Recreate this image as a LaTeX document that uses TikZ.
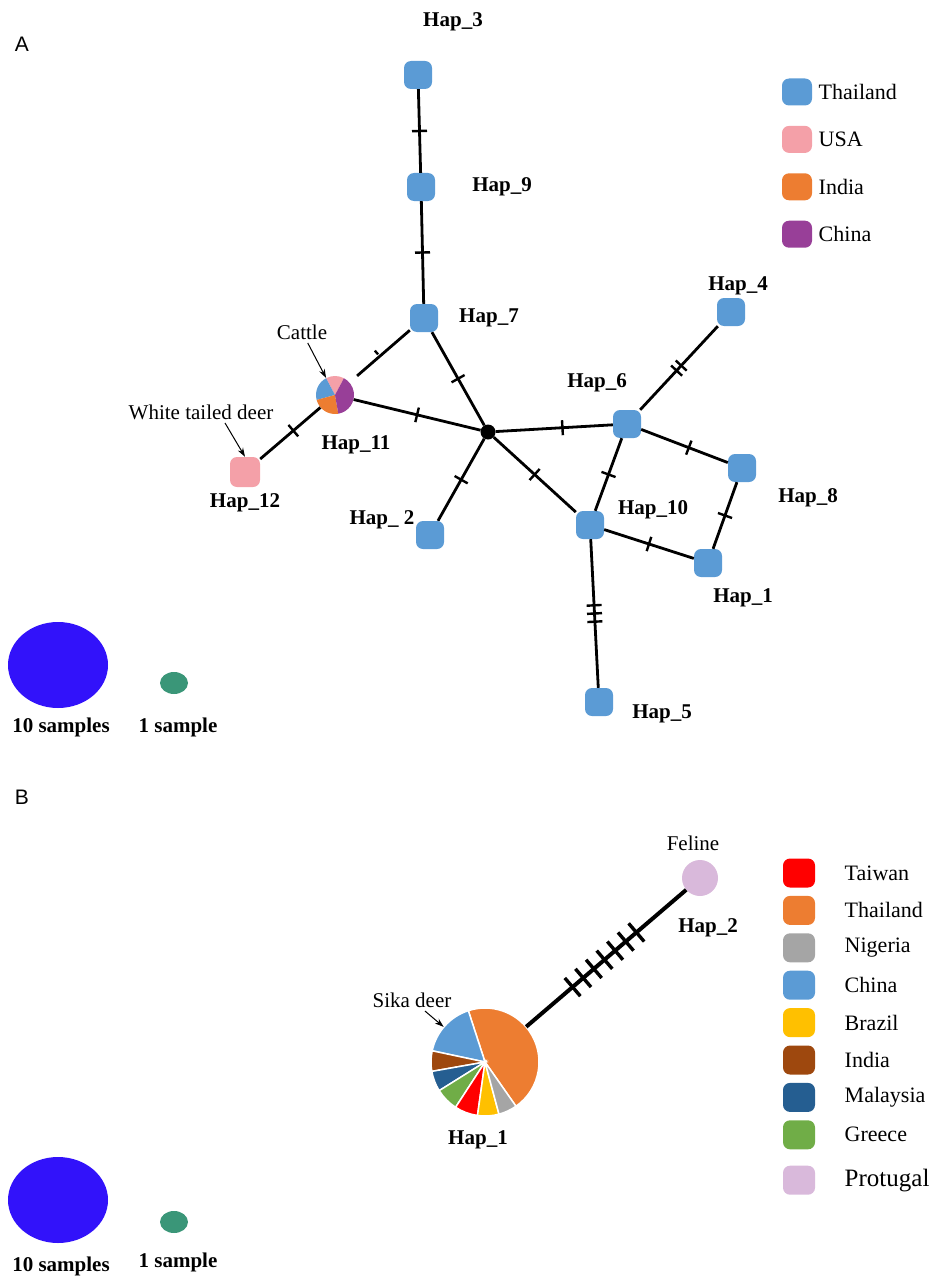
\documentclass[tikz,border=0pt]{standalone}
\usepackage{fontspec}
\setmainfont{Liberation Serif}
\newfontfamily\panelfont{Liberation Sans}
\usepackage{tikz}
\usepackage{xcolor}
\usetikzlibrary{positioning, shapes.geometric}
\usetikzlibrary {arrows.meta, decorations.markings}

\definecolor{thaiblue}{HTML}{5B9BD5}
\definecolor{usapink}{HTML}{F4A0A8}
\definecolor{indiaorange}{HTML}{ED7D31}
\definecolor{chinapurple}{HTML}{983F98}
\definecolor{samplesblue}{RGB}{50,18,250}
\definecolor{samplegreen}{RGB}{58,150,120}
\definecolor{twred}{HTML}{FF0000}
\definecolor{nggray}{HTML}{A5A5A5}
\definecolor{bryellow}{HTML}{FFC000}
\definecolor{inbrown}{HTML}{9E480E}
\definecolor{mydarkblue}{HTML}{255E91}
\definecolor{grgreen}{HTML}{70AD47}
\definecolor{ptlilac}{HTML}{D9B9DB}

\tikzset{
  hapnode/.style={fill=thaiblue, rounded corners=7pt, minimum size=28pt, inner sep=0pt},
  hapname/.style={font=\fontsize{21}{25}\selectfont\bfseries},
  note/.style={font=\fontsize{21}{25}\selectfont},
  country/.style={font=\fontsize{22}{26}\selectfont},
  panel/.style={font=\panelfont\fontsize{21}{25}\selectfont},
  swatch/.style={rounded corners=7pt, minimum width=30pt, minimum height=27pt, inner sep=0pt},
  bigsize/.style={ellipse, fill=samplesblue, minimum width=100pt, minimum height=86pt, inner sep=0pt},
  smallsize/.style={ellipse, fill=samplegreen, minimum width=28pt, minimum height=22pt, inner sep=0pt},
  hapline/.style={line width=2.8pt},
  mut/.style={postaction={decorate, decoration={markings, mark=at position #1 with {\draw[line width=2.4pt] (0,-7.5pt) -- (0,7.5pt);}}}},
  mutrow/.style={postaction={decorate, decoration={markings, mark=between positions 0.29 and 0.72 step 14pt with {\draw[line width=3.4pt] (0,-12pt) -- (0,12pt);}}}},
}

\begin{document}
\begin{tikzpicture}[x=1pt, y=1pt, >={Stealth[length=9pt, width=6pt]}]
        \useasboundingbox (0,0) rectangle (933,-1276);

        % panel A
        \node[panel] (panela) at (22,-44) {A};

        \node[hapnode]                                  (hap3)   at (418,-75)  {};
        \node[hapnode]                                  (hap9)   at (421,-187) {};
        \node[hapnode]                                  (hap7)   at (424,-318) {};
        \node[circle, minimum size=38pt, inner sep=0pt] (hap11)  at (335,-395) {};
        \node[hapnode, fill=usapink, minimum size=30pt] (hap12)  at (245,-472) {};
        \node[circle, fill=black, minimum size=15pt, inner sep=0pt] (hub) at (488,-432) {};
        \node[hapnode]                                  (hap2)   at (430,-535) {};
        \node[hapnode]                                  (hap6)   at (627,-424) {};
        \node[hapnode]                                  (hap4)   at (731,-312) {};
        \node[hapnode]                                  (hap8)   at (742,-468) {};
        \node[hapnode]                                  (hap10)  at (590,-525) {};
        \node[hapnode]                                  (hap1)   at (708,-563) {};
        \node[hapnode]                                  (hap5)   at (599,-702) {};

        \fill[usapink]     (hap11.center) -- ++(62:19)  arc (62:118:19)  -- cycle;
        \fill[thaiblue]    (hap11.center) -- ++(118:19) arc (118:195:19) -- cycle;
        \fill[indiaorange] (hap11.center) -- ++(195:19) arc (195:280:19) -- cycle;
        \fill[chinapurple] (hap11.center) -- ++(280:19) arc (280:422:19) -- cycle;

        \node[hapname] (hap3name)  at (453,-22)  {Hap\_3};
        \node[hapname] (hap9name)  at (502,-187) {Hap\_9};
        \node[hapname] (hap7name)  at (489,-318) {Hap\_7};
        \node[hapname] (hap11name) at (356,-445) {Hap\_11};
        \node[hapname] (hap12name) at (245,-503) {Hap\_12};
        \node[hapname] (hap2name)  at (382,-520) {Hap\_ 2};
        \node[hapname] (hap6name)  at (597,-383) {Hap\_6};
        \node[hapname] (hap4name)  at (738,-286) {Hap\_4};
        \node[hapname] (hap8name)  at (808,-498) {Hap\_8};
        \node[hapname] (hap10name) at (653,-510) {Hap\_10};
        \node[hapname] (hap1name)  at (743,-598) {Hap\_1};
        \node[hapname] (hap5name)  at (662,-714) {Hap\_5};

        \node[note] (cattle) at (302,-332) {Cattle};
        \node[note] (deer)   at (201,-412) {White tailed deer};

        \draw[hapline, mut=0.5] (hap3) -- (hap9);
        \draw[hapline, mut=0.5] (hap9) -- (hap7);
        \draw[hapline, mut=0.5, shorten >=10pt] (hap7) -- (hap11);
        \draw[hapline, mut=0.5] (hap7) -- (hub);
        \draw[hapline, mut=0.5] (hap11) -- (hub);
        \draw[hapline, mut=0.45] (hap11) -- (hap12);
        \draw[hapline, mut=0.5] (hub) -- (hap2);
        \draw[hapline, mut=0.57] (hub) -- (hap6);
        \draw[hapline, mut=0.5] (hub) -- (hap10);
        \draw[hapline, mut=0.47, mut=0.53] (hap6) -- (hap4);
        \draw[hapline, mut=0.55] (hap6) -- (hap8);
        \draw[hapline, mut=0.5] (hap6) -- (hap10);
        \draw[hapline, mut=0.5] (hap8) -- (hap1);
        \draw[hapline, mut=0.5] (hap10) -- (hap1);
        \draw[hapline, mut=0.445, mut=0.5, mut=0.555] (hap10) -- (hap5);

        \draw[->, line width=1pt] (cattle) -- (hap11);
        \draw[->, line width=1pt] ([xshift=24pt]deer.south) -- (hap12.north);

        % legend A
        \node[swatch, fill=thaiblue]                   (thaisw)   at (797,-92) {};
        \node[swatch, fill=usapink, below=20pt of thaisw]     (usasw)   {};
        \node[swatch, fill=indiaorange, below=20pt of usasw]  (indiasw) {};
        \node[swatch, fill=chinapurple, below=20pt of indiasw] (chinasw) {};
        \node[country, right=3pt of thaisw]  (thaitext)  {Thailand};
        \node[country, right=3pt of usasw]   (usatext)   {USA};
        \node[country, right=3pt of indiasw] (indiatext) {India};
        \node[country, right=3pt of chinasw] (chinatext) {China};

        \node[bigsize]   (tenA) at (58,-665)  {};
        \node[smallsize] (oneA) at (174,-683) {};
        \node[hapname] (tenAname) at (61,-727)  {10 samples};
        \node[hapname] (oneAname) at (178,-727) {1 sample};

        % panel B
        \node[panel] (panelb) at (22,-797) {B};

        \node[circle, minimum size=108pt, inner sep=0pt] (hap1b) at (485,-1062) {};
        \node[circle, fill=ptlilac, minimum size=36pt, inner sep=0pt] (hap2b) at (700,-878) {};

        \foreach \a/\b/\c in {-55/108/indiaorange, 108/168/thaiblue, 168/190/inbrown, 190/212/mydarkblue,
                              212/237/grgreen, 237/262/twred, 262/285/bryellow, 285/305/nggray}
          \filldraw[fill=\c, draw=white, line width=1.5pt] (hap1b.center) -- ++(\a:54) arc (\a:\b:54) -- cycle;

        \draw[line width=4pt, mutrow] (hap1b) -- (hap2b);

        \node[note]    (feline)    at (693,-843)  {Feline};
        \node[hapname] (hap2bname) at (708,-928)  {Hap\_2};
        \node[hapname] (hap1bname) at (478,-1140) {Hap\_1};
        \node[note]    (sika)      at (412,-1000) {Sika deer};
        \draw[->, line width=1pt] (sika) -- (hap1b);

        % legend B
        \node[swatch, fill=twred, minimum width=32pt, minimum height=29pt]       (twsw) at (799,-873) {};
        \node[swatch, fill=indiaorange, minimum width=32pt, minimum height=29pt, below=8pt of twsw] (thsw) {};
        \node[swatch, fill=nggray, minimum width=32pt, minimum height=29pt, below=8pt of thsw]     (ngsw) {};
        \node[swatch, fill=thaiblue, minimum width=32pt, minimum height=29pt, below=8pt of ngsw]   (cnsw) {};
        \node[swatch, fill=bryellow, minimum width=32pt, minimum height=29pt, below=8pt of cnsw]   (brsw) {};
        \node[swatch, fill=inbrown, minimum width=32pt, minimum height=29pt, below=8pt of brsw]    (insw) {};
        \node[swatch, fill=mydarkblue, minimum width=32pt, minimum height=29pt, below=8pt of insw] (mysw) {};
        \node[swatch, fill=grgreen, minimum width=32pt, minimum height=29pt, below=8pt of mysw]    (grsw) {};
        \node[swatch, fill=ptlilac, minimum width=32pt, minimum height=29pt, below=16pt of grsw]   (ptsw) {};
        \node[country, right=26pt of twsw] (twtext) {Taiwan};
        \node[country, right=26pt of thsw] (thtext) {Thailand};
        \node[country, right=26pt of ngsw] (ngtext) {Nigeria};
        \node[country, right=26pt of cnsw] (cntext) {China};
        \node[country, right=26pt of brsw] (brtext) {Brazil};
        \node[country, right=26pt of insw] (intext) {India};
        \node[country, right=26pt of mysw] (mytext) {Malaysia};
        \node[country, right=26pt of grsw] (grtext) {Greece};
        \node[country, font=\fontsize{25}{30}\selectfont, right=26pt of ptsw] (pttext) {Protugal};

        \node[bigsize]   (tenB) at (58,-1200)  {};
        \node[smallsize] (oneB) at (174,-1222) {};
        \node[hapname] (tenBname) at (61,-1266)  {10 samples};
        \node[hapname] (oneBname) at (178,-1262) {1 sample};

      \end{tikzpicture}
\end{document}
